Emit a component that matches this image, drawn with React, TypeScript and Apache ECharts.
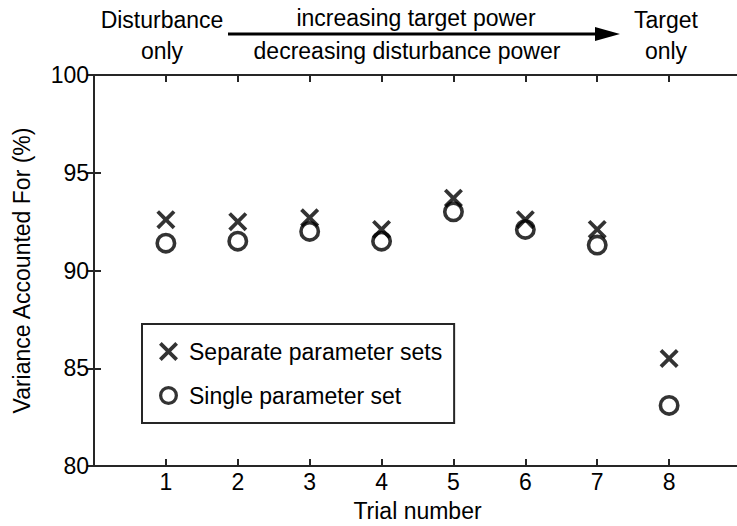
import React, { useEffect, useRef } from "react";
import * as echarts from "echarts";

const trials = [1, 2, 3, 4, 5, 6, 7, 8];
const separateVAF = [92.6, 92.5, 92.7, 92.1, 93.7, 92.6, 92.1, 85.5];
const singleVAF = [91.4, 91.5, 92.0, 91.5, 93.0, 92.1, 91.3, 83.1];
const yTicks = [80, 85, 90, 95, 100];

const FONT = "'Liberation Sans', Arial, Helvetica, sans-serif";
const FS = 23;
const INK = "#000";
const AXIS = "#262626";

const CROSS_SYMBOL =
  "path://M0,2.8L2.8,0L10,7.2L17.2,0L20,2.8L12.8,10L20,17.2L17.2,20L10,12.8L2.8,20L0,17.2L7.2,10Z";
const RING_SYMBOL =
  "path://M0,10.5A10.5,10.5 0 1,1 21,10.5A10.5,10.5 0 1,1 0,10.5ZM3.6,10.5A6.9,6.9 0 1,0 17.4,10.5A6.9,6.9 0 1,0 3.6,10.5Z";

export default function App() {
  const ref = useRef<HTMLDivElement>(null);
  useEffect(() => {
    if (!ref.current) return;
    const chart = echarts.init(ref.current, undefined, { renderer: "svg" });
    const sepData = trials.map((t, i) => [t, separateVAF[i]]);
    const sinData = trials.map((t, i) => [t, singleVAF[i]]);
    const tickCommon = {
      show: true,
      inside: true,
      length: 7,
      lineStyle: { color: AXIS, width: 2 },
    };
    const txt = (text: string, x: number, y: number) => ({
      type: "text",
      x,
      y,
      style: { text, fontSize: FS, fill: INK, fontFamily: FONT, align: "center", verticalAlign: "middle" },
    });
    const option: any = {
      animation: false,
      backgroundColor: "#fff",
      textStyle: { fontFamily: FONT },
      grid: { left: 94, top: 75, width: 647, height: 391, containLabel: false, outerBoundsMode: "none" },
      xAxis: [
        {
          type: "value",
          min: 0,
          max: 9,
          interval: 1,
          name: "Trial number",
          nameLocation: "middle",
          nameGap: 33,
          nameTextStyle: { fontSize: FS, color: INK, fontFamily: FONT },
          axisLine: { show: true, onZero: false, lineStyle: { color: AXIS, width: 2 } },
          axisTick: tickCommon,
          splitLine: { show: false },
          axisLabel: {
            fontSize: FS,
            color: INK,
            fontFamily: FONT,
            margin: 4,
            formatter: (v: number) => (trials.includes(v) ? String(v) : ""),
          },
        },
        {
          type: "value",
          position: "top",
          min: 0,
          max: 9,
          interval: 1,
          axisLine: { show: true, onZero: false, lineStyle: { color: AXIS, width: 2 } },
          axisTick: tickCommon,
          splitLine: { show: false },
          axisLabel: { show: false },
        },
      ],
      yAxis: [
        {
          type: "value",
          min: yTicks[0],
          max: yTicks[yTicks.length - 1],
          interval: 5,
          name: "Variance Accounted For (%)",
          nameLocation: "middle",
          nameGap: 61,
          nameTextStyle: { fontSize: FS, color: INK, fontFamily: FONT },
          axisLine: { show: true, onZero: false, lineStyle: { color: AXIS, width: 2 } },
          axisTick: tickCommon,
          splitLine: { show: false },
          axisLabel: { fontSize: FS, color: INK, fontFamily: FONT, margin: 5 },
        },
        {
          type: "value",
          position: "right",
          min: yTicks[0],
          max: yTicks[yTicks.length - 1],
          interval: 5,
          axisLine: { show: false },
          axisTick: tickCommon,
          splitLine: { show: false },
          axisLabel: { show: false },
        },
      ],
      legend: {
        show: true,
        orient: "vertical",
        left: 142,
        top: 324,
        padding: [16, 12, 16, 17],
        itemGap: 21,
        itemWidth: 19,
        itemHeight: 19,
        borderColor: AXIS,
        borderWidth: 2,
        borderRadius: 0,
        backgroundColor: "#fff",
        itemStyle: { borderWidth: 0 },
        textStyle: { fontSize: FS, color: INK, fontFamily: FONT, padding: [0, 0, 0, 6] },
        data: ["Separate parameter sets", "Single parameter set"],
      },
      graphic: [
        txt("Disturbance", 162, 20),
        txt("only", 162, 51),
        txt("increasing target power", 416, 18),
        txt("decreasing disturbance power", 407, 51),
        txt("Target", 666, 20),
        txt("only", 666, 51),
        { type: "line", shape: { x1: 228, y1: 34, x2: 600, y2: 34 }, style: { stroke: INK, lineWidth: 3 } },
        { type: "polygon", shape: { points: [[595, 27], [620, 34], [595, 41]] }, style: { fill: INK } },
      ],
      series: [
        {
          name: "Separate parameter sets",
          type: "scatter",
          xAxisIndex: 0,
          yAxisIndex: 0,
          symbol: CROSS_SYMBOL,
          symbolSize: 19,
          itemStyle: { color: INK, borderWidth: 0 },
          data: sepData,
          z: 3,
        },
        {
          name: "Single parameter set",
          type: "scatter",
          xAxisIndex: 0,
          yAxisIndex: 0,
          symbol: RING_SYMBOL,
          symbolSize: 21,
          itemStyle: { color: INK, borderWidth: 0 },
          data: sinData,
          z: 2,
        },
      ],
    };
    chart.setOption(option);
    return () => chart.dispose();
  }, []);
  return (
    <div
      ref={ref}
      style={{ position: "absolute", left: 0, top: 0, width: 737, height: 526, background: "#fff" }}
    />
  );
}
